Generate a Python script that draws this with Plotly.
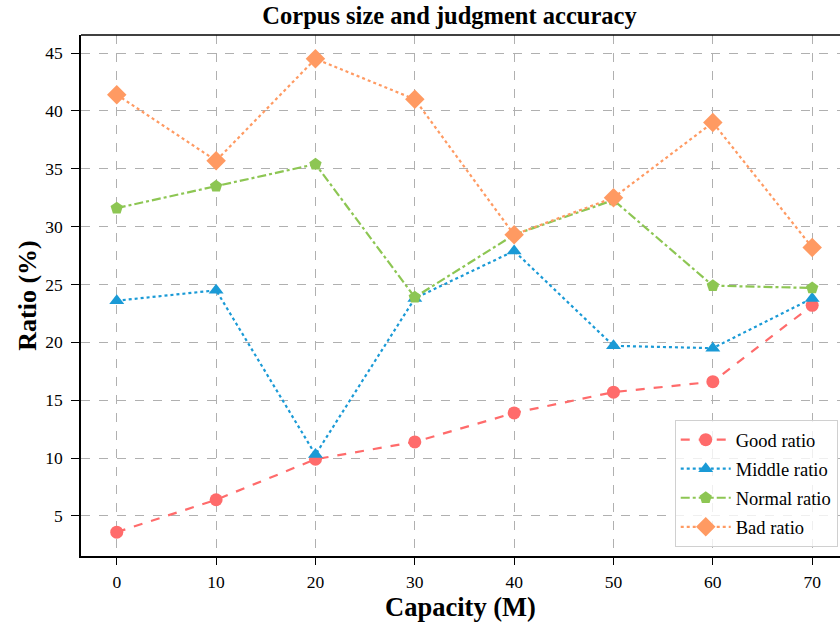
import plotly.graph_objects as go

capacity = [0, 10, 20, 30, 40, 50, 60, 70]
good_ratio = [3.6, 6.4, 9.9, 11.4, 13.9, 15.7, 16.6, 23.2]
middle_ratio = [23.6, 24.5, 10.3, 23.8, 27.9, 19.7, 19.5, 23.8]
normal_ratio = [31.6, 33.5, 35.4, 23.9, 29.3, 32.3, 24.9, 24.7]
bad_ratio = [41.4, 35.7, 44.5, 41.0, 29.3, 32.5, 39.0, 28.2]

x_ticks = [0, 10, 20, 30, 40, 50, 60, 70]
y_ticks = [5, 10, 15, 20, 25, 30, 35, 40, 45]

series = [
    ("Good ratio", good_ratio, "#FF6B6B", "dash", "circle", 13),
    ("Middle ratio", middle_ratio, "#1A9AD6", "dot", "triangle-up", 13),
    ("Normal ratio", normal_ratio, "#8DC653", "dashdot", "pentagon", 13),
    ("Bad ratio", bad_ratio, "#FF9A62", "dot", "diamond", 15),
]

fig = go.Figure()
for name, vals, color, dash, sym, msize in series:
    fig.add_trace(go.Scatter(
        x=capacity, y=vals, name=name, mode="lines+markers", legendgroup=name,
        line=dict(color=color, width=2.2, dash=dash),
        marker=dict(symbol=sym, size=msize, color=color),
    ))

font_family = "Liberation Serif"
fig.update_layout(
    width=840, height=626,
    margin=dict(l=81, r=0, t=35, b=70),
    plot_bgcolor="white", paper_bgcolor="white",
    font=dict(family=font_family, color="black", size=17.5),
    title=dict(text="<b>Corpus size and judgment accuracy</b>", x=0.4855, xanchor="center",
               xref="paper", yref="container", y=0.976, yanchor="middle",
               font=dict(size=24.5, family=font_family)),
    legend=dict(x=0.997, y=0.017, xanchor="right", yanchor="bottom",
                bgcolor="rgba(255,255,255,0.8)", bordercolor="#d0d0d0", borderwidth=1,
                font=dict(size=18.5, family=font_family), tracegroupgap=2, itemwidth=50),
    showlegend=True,
)
fig.update_xaxes(
    range=[-3.6, 72.8], tickvals=x_ticks, ticktext=[str(t) for t in x_ticks],
    showgrid=True, gridcolor="#b0b0b0", griddash="dash", gridwidth=1,
    showline=True, linecolor="black", linewidth=1.5, mirror=False,
    ticks="outside", ticklen=7, tickcolor="black", ticklabelstandoff=2,
    title=dict(text="<b>Capacity (M)</b>", font=dict(size=26.5, family=font_family), standoff=6),
    zeroline=False,
)
fig.update_yaxes(
    range=[1.54, 46.56], tickvals=y_ticks, ticktext=[str(t) for t in y_ticks],
    showgrid=True, gridcolor="#b0b0b0", griddash="dash", gridwidth=1,
    showline=True, linecolor="black", linewidth=1.5, mirror=False,
    ticks="outside", ticklen=8, tickcolor="black", ticklabelstandoff=5,
    title=dict(text="<b>Ratio (%)</b>", font=dict(size=26, family=font_family), standoff=1),
    zeroline=False,
)
fig.add_shape(type="line", xref="paper", yref="paper", x0=0, x1=1, y0=1, y1=1,
              line=dict(color="black", width=1.5))

fig.write_html("out.html", config={"displayModeBar": False},
               post_script="document.body.style.margin='0';")
